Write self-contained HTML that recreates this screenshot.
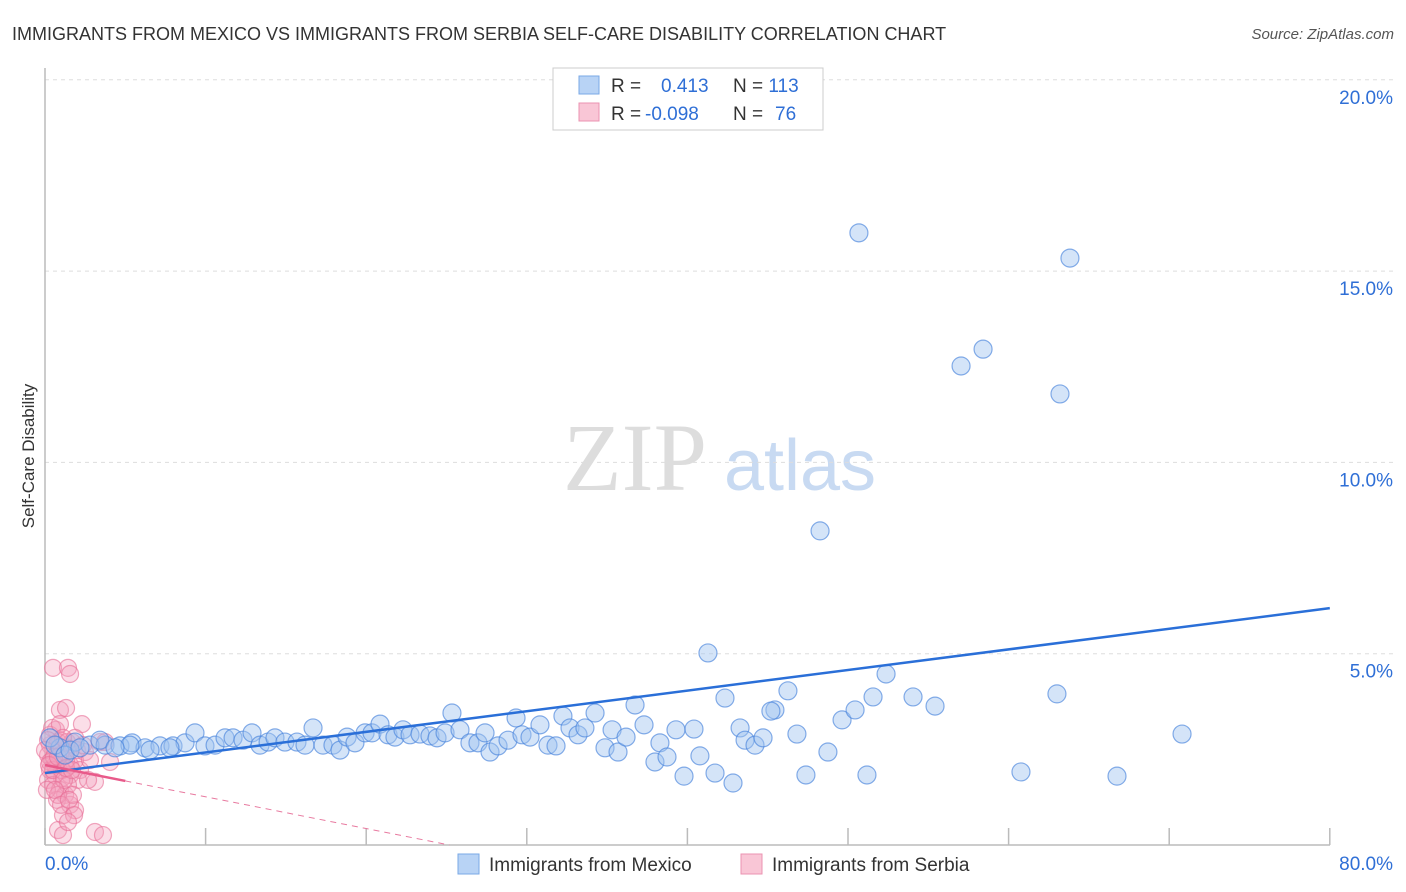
<!DOCTYPE html>
<html><head><meta charset="utf-8"><style>
body{margin:0;background:#fff;font-family:"Liberation Sans",sans-serif;}
svg{display:block}
</style></head><body>
<svg id="chart" width="1406" height="892" xmlns="http://www.w3.org/2000/svg">
<text x="12" y="40" font-size="18" fill="#333">IMMIGRANTS FROM MEXICO VS IMMIGRANTS FROM SERBIA SELF-CARE DISABILITY CORRELATION CHART</text>
<text x="1394" y="39" font-size="15" fill="#555" font-style="italic" text-anchor="end">Source: ZipAtlas.com</text>
<text x="34" y="456" font-size="17" fill="#333" text-anchor="middle" transform="rotate(-90 34 456)">Self-Care Disability</text>
<g><text x="635" y="490" font-size="96" fill="#ddd" font-family="Liberation Serif,serif" text-anchor="middle">ZIP</text><text x="800" y="490" font-size="72" fill="#c8daf2" text-anchor="middle">atlas</text></g>
<g id="grid"></g><g id="axes"></g><g id="lines"></g><g id="pts"></g>
<g>
<rect x="553" y="68" width="270" height="62" fill="#fff" stroke="#ccc"/>
<rect x="579" y="76" width="20" height="18" fill="#b8d3f5" stroke="#7aa8e6"/>
<rect x="579" y="103" width="20" height="18" fill="#f9c6d6" stroke="#eb93b1"/>
<text x="611" y="92" font-size="19" fill="#333">R = <tspan fill="#2f6fd6" x="661">0.413</tspan><tspan x="733">N = </tspan><tspan fill="#2f6fd6">113</tspan></text>
<text x="611" y="120" font-size="19" fill="#333">R = <tspan fill="#2f6fd6" x="645">-0.098</tspan><tspan x="733">N = </tspan><tspan fill="#2f6fd6" x="775">76</tspan></text>
</g>
<g>
<rect x="458" y="854" width="21" height="20" fill="#b8d3f5" stroke="#7aa8e6"/>
<text x="489" y="871" font-size="19" fill="#333">Immigrants from Mexico</text>
<rect x="741" y="854" width="21" height="20" fill="#f9c6d6" stroke="#eb93b1"/>
<text x="772" y="871" font-size="19" fill="#333">Immigrants from Serbia</text>
</g>
</svg>
<script>
const yTicks=[5,10,15,20];
const yTickLabels=["5.0%","10.0%","15.0%","20.0%"];
const xTicks=[0,10,20,30,40,50,60,70,80];
const mexX=[0.93,1.87,2.80,3.74,4.67,5.42,6.23,7.16,7.97,8.72,9.34,9.96,10.59,11.21,11.71,12.33,12.89,13.39,13.89,14.32,14.94,15.69,16.19,16.69,17.31,17.93,18.37,18.81,19.30,19.93,20.36,20.86,21.36,21.79,22.29,22.73,23.35,23.97,24.41,24.91,25.34,25.84,26.46,26.96,27.40,27.71,28.21,28.83,29.33,29.70,30.20,30.82,31.32,31.82,32.25,32.69,33.19,33.62,34.25,34.87,35.31,35.68,36.18,36.74,37.30,37.98,38.29,38.73,39.29,39.79,40.41,40.78,41.72,42.34,42.84,43.28,43.59,44.21,44.71,45.45,46.26,46.82,47.38,48.26,48.75,49.63,50.44,50.68,51.18,51.56,52.37,54.05,55.42,57.04,58.41,60.77,63.01,63.20,63.82,66.75,70.80,41.28,0.31,0.62,1.25,1.56,2.18,3.42,5.29,6.54,7.78,4.36,45.2];
const mexY=[2.54,2.69,2.61,2.61,2.59,2.67,2.54,2.59,2.59,2.67,2.93,2.59,2.61,2.80,2.80,2.74,2.93,2.61,2.69,2.80,2.69,2.69,2.61,3.06,2.61,2.61,2.48,2.82,2.67,2.93,2.93,3.16,2.88,2.82,3.01,2.88,2.90,2.85,2.80,2.93,3.45,3.01,2.67,2.67,2.93,2.43,2.59,2.74,3.32,2.88,2.82,3.14,2.61,2.59,3.37,3.06,2.88,3.06,3.45,2.54,3.01,2.43,2.82,3.66,3.14,2.17,2.67,2.30,3.01,1.80,3.03,2.33,1.88,3.84,1.62,3.06,2.74,2.61,2.80,3.53,4.03,2.90,1.83,8.21,2.43,3.27,3.53,16.00,1.83,3.87,4.47,3.87,3.63,12.52,12.96,1.91,3.95,11.79,15.34,1.80,2.90,5.02,2.80,2.61,2.35,2.48,2.54,2.74,2.61,2.48,2.54,2.54,3.50];
const serX=[0.50,1.43,1.56,0.93,1.31,0.68,2.30,0.93,0.31,0.62,0.19,0.44,0.81,0.31,0.62,1.06,0.19,0.50,0.93,1.25,0.75,1.56,1.87,1.12,0.81,1.12,3.11,3.61,4.05,3.11,1.56,1.87,2.18,1.43,1.68,2.49,2.80,1.25,0.81,0.31,0.44,0.93,1.31,1.56,2.05,1.06,0.62,0.75,0.19,1.43,1.74,2.68,0.00,0.31,0.50,0.12,0.81,1.18,1.37,1.87,3.42,3.74,0.93,1.12,0.56,0.25,0.81,1.31,1.68,1.99,2.37,0.62,1.00,1.49,1.81,1.43];
const serY=[4.63,4.63,4.47,3.53,3.58,3.01,3.16,2.74,2.61,2.48,2.35,2.22,2.09,1.96,1.83,1.75,1.70,1.57,1.44,1.31,1.18,1.05,0.91,0.78,0.39,0.26,0.34,0.26,2.17,1.65,2.09,2.22,1.96,2.54,2.69,2.43,2.22,2.43,2.69,2.88,3.06,2.35,2.22,1.83,1.70,1.96,2.09,2.61,2.74,1.57,1.31,1.70,2.48,2.17,1.96,1.44,1.31,1.70,2.69,2.80,2.69,2.69,3.16,2.80,2.30,2.09,2.30,2.01,1.96,2.48,2.61,1.44,1.05,1.18,0.78,0.60];
const mexFit=[1.88,6.19];
const serFit=[2.09,-0.083];
const NS="http://www.w3.org/2000/svg";
const X=v=>45+v*16.06, Y=v=>845-v*38.26;
function mk(tag,attrs,parent){const e=document.createElementNS(NS,tag);for(const k in attrs)e.setAttribute(k,attrs[k]);document.getElementById(parent).appendChild(e);return e;}
yTicks.forEach((t,i)=>{
 const g=mk('line',{x1:45,x2:1393,y1:Y(t),y2:Y(t),stroke:'#ddd','stroke-dasharray':'4,4'},'grid');
 
 
 const l=mk('text',{x:1393,y:Y(t)+24,'font-size':19,fill:'#2f6fd6','text-anchor':'end'},'grid');
 l.textContent=yTickLabels[i];
 
 
});
const ya=mk('line',{x1:45,x2:45,y1:68,y2:845,stroke:'#bbb','stroke-width':1.5},'axes');


const xa=mk('line',{x1:45,x2:1330,y1:845,y2:845,stroke:'#bbb','stroke-width':1.5},'axes');


xTicks.forEach(t=>{
 const tk=mk('line',{x1:X(t),x2:X(t),y1:828,y2:845,stroke:'#bbb','stroke-width':1.5},'axes');
 
 
});
const xl0=mk('text',{x:45,y:870,'font-size':19,fill:'#2f6fd6'},'axes');xl0.textContent="0.0%";


const xl1=mk('text',{x:1393,y:870,'font-size':19,fill:'#2f6fd6','text-anchor':'end'},'axes');xl1.textContent="80.0%";


serX.forEach((x,i)=>{
 const c=mk('circle',{cx:X(x),cy:Y(serY[i]),r:8.5,fill:'rgba(244,160,188,0.35)',stroke:'rgba(232,110,150,0.6)','stroke-width':1.2},'pts');
 
 
});
mexX.forEach((x,i)=>{
 const c=mk('circle',{cx:X(x),cy:Y(mexY[i]),r:9,fill:'rgba(160,196,240,0.45)',stroke:'rgba(70,130,220,0.65)','stroke-width':1.2},'pts');
 
 
});
const ml=mk('line',{x1:X(0),y1:Y(mexFit[0]),x2:X(80),y2:Y(mexFit[1]),stroke:'#2a6fd8','stroke-width':2.5},'pts');


const xEnd=-serFit[0]/serFit[1];
const sd=mk('line',{x1:X(5),y1:Y(serFit[0]+serFit[1]*5),x2:X(xEnd),y2:Y(0),stroke:'#e87aa0','stroke-width':1,'stroke-dasharray':'6,5'},'pts');


const sl=mk('line',{x1:X(0),y1:Y(serFit[0]),x2:X(5),y2:Y(serFit[0]+serFit[1]*5),stroke:'#e85a8a','stroke-width':2.5},'pts');


</script>
</body></html>
